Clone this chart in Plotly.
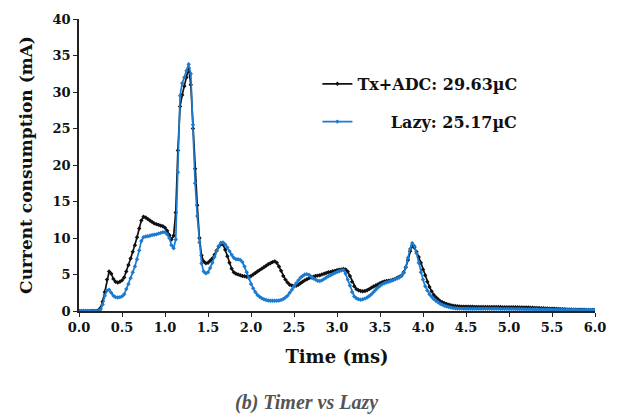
import numpy as np
import plotly.graph_objects as go

# time axis (ms), sampled every 0.025 ms
time_ms = np.round(np.arange(0, 6.0001, 0.025), 3).tolist()

# Tx+ADC current (mA)
tx_adc = [
    0, 0, 0, 0, 0, 0, 0, 0, 0,                       # 0.000-0.200
    0.1, 0.4, 1.3, 2.6, 4.3, 5.4, 5.1, 4.4, 4.0, 3.9, 4.0,   # 0.225-0.475
    4.2, 4.6, 5.4, 6.3, 7.2, 8.1, 9.0, 10.1, 11.3, 12.4,    # 0.500-0.725
    12.9, 12.8, 12.6, 12.4, 12.2, 12.0, 11.9, 11.8, 11.7, 11.6,  # 0.750-0.975
    11.4, 11.0, 10.4, 9.8, 10.3, 13.5, 22.0, 28.0, 29.6, 30.8,   # 1.000-1.225
    32.0, 33.3, 31.0, 25.0, 19.5, 14.5, 10.0, 7.6, 6.8, 6.55,    # 1.250-1.475
    6.6, 6.9, 7.2, 7.7, 8.3, 8.8, 9.15, 9.1, 8.4, 7.5,           # 1.500-1.725
    6.6, 5.8, 5.3, 5.1, 5.0, 4.9, 4.8, 4.75, 4.7, 4.7,           # 1.750-1.975
    4.8, 5.0, 5.2, 5.4, 5.6, 5.8, 6.0, 6.2, 6.4, 6.55,           # 2.000-2.225
    6.7, 6.8, 6.6, 6.1, 5.5, 4.8, 4.3, 3.9, 3.6, 3.5,            # 2.250-2.475
    3.4, 3.45, 3.6, 3.8, 4.0, 4.2, 4.35, 4.5, 4.6, 4.7,          # 2.500-2.725
    4.8, 4.85, 4.9, 5.0, 5.1, 5.2, 5.3, 5.35, 5.45, 5.5,         # 2.750-2.975
    5.6, 5.65, 5.7, 5.75, 5.7, 5.4, 4.8, 4.0, 3.4, 3.0,          # 3.000-3.225
    2.85, 2.75, 2.7, 2.75, 2.85, 3.0, 3.2, 3.35, 3.5, 3.65,      # 3.250-3.475
    3.8, 3.95, 4.05, 4.1, 4.15, 4.2, 4.3, 4.4, 4.55, 4.7,        # 3.500-3.725
    4.85, 5.3, 6.0, 7.0, 8.2, 9.0, 8.7, 8.1, 7.4, 6.6,           # 3.750-3.975
    5.7, 4.9, 4.0, 3.3, 2.7, 2.2, 1.9, 1.6, 1.35, 1.2,           # 4.000-4.225
    1.05, 0.95, 0.85, 0.78, 0.72, 0.68, 0.64, 0.62, 0.6, 0.6,    # 4.250-4.475
    0.6, 0.6, 0.58, 0.58, 0.57, 0.57, 0.56, 0.56, 0.55, 0.55,    # 4.500-4.725
    0.55, 0.55, 0.55, 0.55, 0.54, 0.54, 0.54, 0.53, 0.53, 0.53,  # 4.750-4.975
    0.52, 0.52, 0.52, 0.51, 0.51, 0.5, 0.5, 0.49, 0.48, 0.47,    # 5.000-5.225
    0.46, 0.45, 0.43, 0.42, 0.4, 0.39, 0.37, 0.36, 0.35, 0.33,   # 5.250-5.475
    0.32, 0.3, 0.29, 0.27, 0.26, 0.25, 0.24, 0.22, 0.21, 0.2,    # 5.500-5.725
    0.19, 0.18, 0.17, 0.17, 0.16, 0.16, 0.15, 0.15, 0.15, 0.15,  # 5.750-5.975
    0.15,                                                        # 6.000
]

# Lazy current (mA)
lazy = [
    0, 0, 0, 0, 0, 0, 0, 0, 0, 0,                    # 0.000-0.225
    0.2, 0.9, 2.1, 2.8, 2.9, 2.5, 2.1, 1.9, 1.85, 1.9,       # 0.250-0.475
    2.0, 2.3, 3.0, 3.7, 4.5, 5.3, 6.1, 7.1, 8.3, 9.6,        # 0.500-0.725
    10.1, 10.2, 10.25, 10.3, 10.4, 10.45, 10.5, 10.6, 10.7, 10.8,  # 0.750-0.975
    10.8, 10.5, 10.0, 9.0, 8.6, 9.8, 19.0, 29.5, 31.2, 32.0,       # 1.000-1.225
    32.9, 33.8, 32.5, 25.5, 17.5, 13.0, 9.4, 6.5, 5.4, 5.15,       # 1.250-1.475
    5.3, 5.9, 6.6, 7.4, 8.2, 8.9, 9.35, 9.4, 9.1, 8.7,             # 1.500-1.725
    8.2, 7.7, 7.3, 7.1, 7.1, 7.0, 6.7, 6.1, 5.3, 4.5,              # 1.750-1.975
    3.7, 3.1, 2.6, 2.2, 1.95, 1.75, 1.6, 1.5, 1.45, 1.4,           # 2.000-2.225
    1.4, 1.4, 1.4, 1.45, 1.5, 1.65, 1.85, 2.1, 2.5, 2.9,           # 2.250-2.475
    3.35, 3.8, 4.2, 4.55, 4.8, 5.0, 5.05, 4.95, 4.7, 4.45,         # 2.500-2.725
    4.3, 4.15, 4.1, 4.2, 4.4, 4.6, 4.75, 4.9, 5.05, 5.2,           # 2.750-2.975
    5.35, 5.45, 5.55, 5.6, 5.1, 4.3, 3.5, 2.6, 2.0, 1.75,          # 3.000-3.225
    1.6, 1.55, 1.6, 1.7, 1.85, 2.05, 2.3, 2.6, 2.9, 3.2,           # 3.250-3.475
    3.45, 3.65, 3.8, 3.9, 4.0, 4.1, 4.2, 4.35, 4.45, 4.6,          # 3.500-3.725
    4.8, 5.2, 6.0, 7.3, 8.5, 9.3, 8.9, 7.9, 6.6, 5.3,              # 3.750-3.975
    4.3, 3.4, 2.8, 2.3, 1.95, 1.65, 1.4, 1.2, 1.0, 0.85,           # 4.000-4.225
    0.72, 0.62, 0.54, 0.47, 0.42, 0.38, 0.35, 0.33, 0.32, 0.31,    # 4.250-4.475
    0.3, 0.3, 0.3, 0.3, 0.3, 0.3, 0.3, 0.3, 0.3, 0.3,              # 4.500-4.725
    0.3, 0.3, 0.3, 0.3, 0.3, 0.3, 0.29, 0.29, 0.29, 0.29,          # 4.750-4.975
    0.28, 0.28, 0.28, 0.27, 0.27, 0.27, 0.26, 0.26, 0.25, 0.25,    # 5.000-5.225
    0.24, 0.24, 0.23, 0.23, 0.22, 0.22, 0.21, 0.21, 0.2, 0.2,      # 5.250-5.475
    0.19, 0.19, 0.18, 0.18, 0.18, 0.17, 0.17, 0.17, 0.16, 0.16,    # 5.500-5.725
    0.16, 0.16, 0.15, 0.15, 0.15, 0.15, 0.15, 0.15, 0.15, 0.15,    # 5.750-5.975
    0.15,                                                          # 6.000
]

series_names = ["Tx+ADC: 29.63\u00b5C", "Lazy: 25.17\u00b5C"]
series_pad = [0, 6]
series_colors = ["#111111", "#1a7bd0"]

x_ticks = [0.0, 0.5, 1.0, 1.5, 2.0, 2.5, 3.0, 3.5, 4.0, 4.5, 5.0, 5.5, 6.0]
y_ticks = [0, 5, 10, 15, 20, 25, 30, 35, 40]

SERIF = "'DejaVu Serif', serif"
INK = "#111111"

fig = go.Figure()
for i, (name, vals, col) in enumerate(zip(series_names, [tx_adc, lazy], series_colors)):
    fig.add_trace(go.Scatter(
        x=time_ms, y=vals, name="<b>" + "\u00a0" * series_pad[i] + name + "</b>",
        legendgroup=f"g{i}", mode="lines+markers",
        line=dict(color=col, width=1.7),
        marker=dict(color=col, size=3.4, symbol="diamond"),
    ))

fig.update_layout(
    width=619, height=415,
    margin=dict(l=79, r=24, t=15, b=104),
    paper_bgcolor="white", plot_bgcolor="white",
    showlegend=True,
    legend=dict(
        x=0.462, y=0.836, xanchor="left", yanchor="top",
        bgcolor="rgba(0,0,0,0)", itemwidth=30, tracegroupgap=14,
        font=dict(family=SERIF, size=16, color=INK),
        itemclick=False, itemdoubleclick=False,
    ),
    font=dict(family=SERIF, color=INK),
)

fig.update_xaxes(
    range=[0, 6], tickvals=x_ticks, ticktext=[f"<b>{v:.1f}</b>" for v in x_ticks],
    showline=True, linecolor="#222222", linewidth=1.5,
    ticks="outside", ticklen=4, tickcolor="#222222",
    showgrid=False, zeroline=False,
    tickfont=dict(family=SERIF, size=13, color=INK),
    title=dict(text="<b>Time (ms)</b>", font=dict(family=SERIF, size=18, color=INK), standoff=16),
)
fig.update_yaxes(
    range=[0, 40], tickvals=y_ticks, ticktext=[f"<b>{v}</b>" for v in y_ticks],
    showline=True, linecolor="#222222", linewidth=1.5,
    ticks="outside", ticklen=4, tickcolor="#222222",
    showgrid=False, zeroline=False,
    tickfont=dict(family=SERIF, size=13, color=INK),
    title=dict(text="<b>Current consumption (mA)</b>", font=dict(family=SERIF, size=17, color=INK), standoff=16),
)

fig.add_annotation(
    text="<b><i>(b) Timer vs Lazy</i></b>", xref="paper", yref="paper",
    x=(306 - 79) / 516, y=-(403 - 310.7) / 295.7, xanchor="center", yanchor="middle", showarrow=False,
    font=dict(family="'Liberation Serif', 'Times New Roman', serif", size=20, color="#555555"),
)

fig.write_html("out.html")
